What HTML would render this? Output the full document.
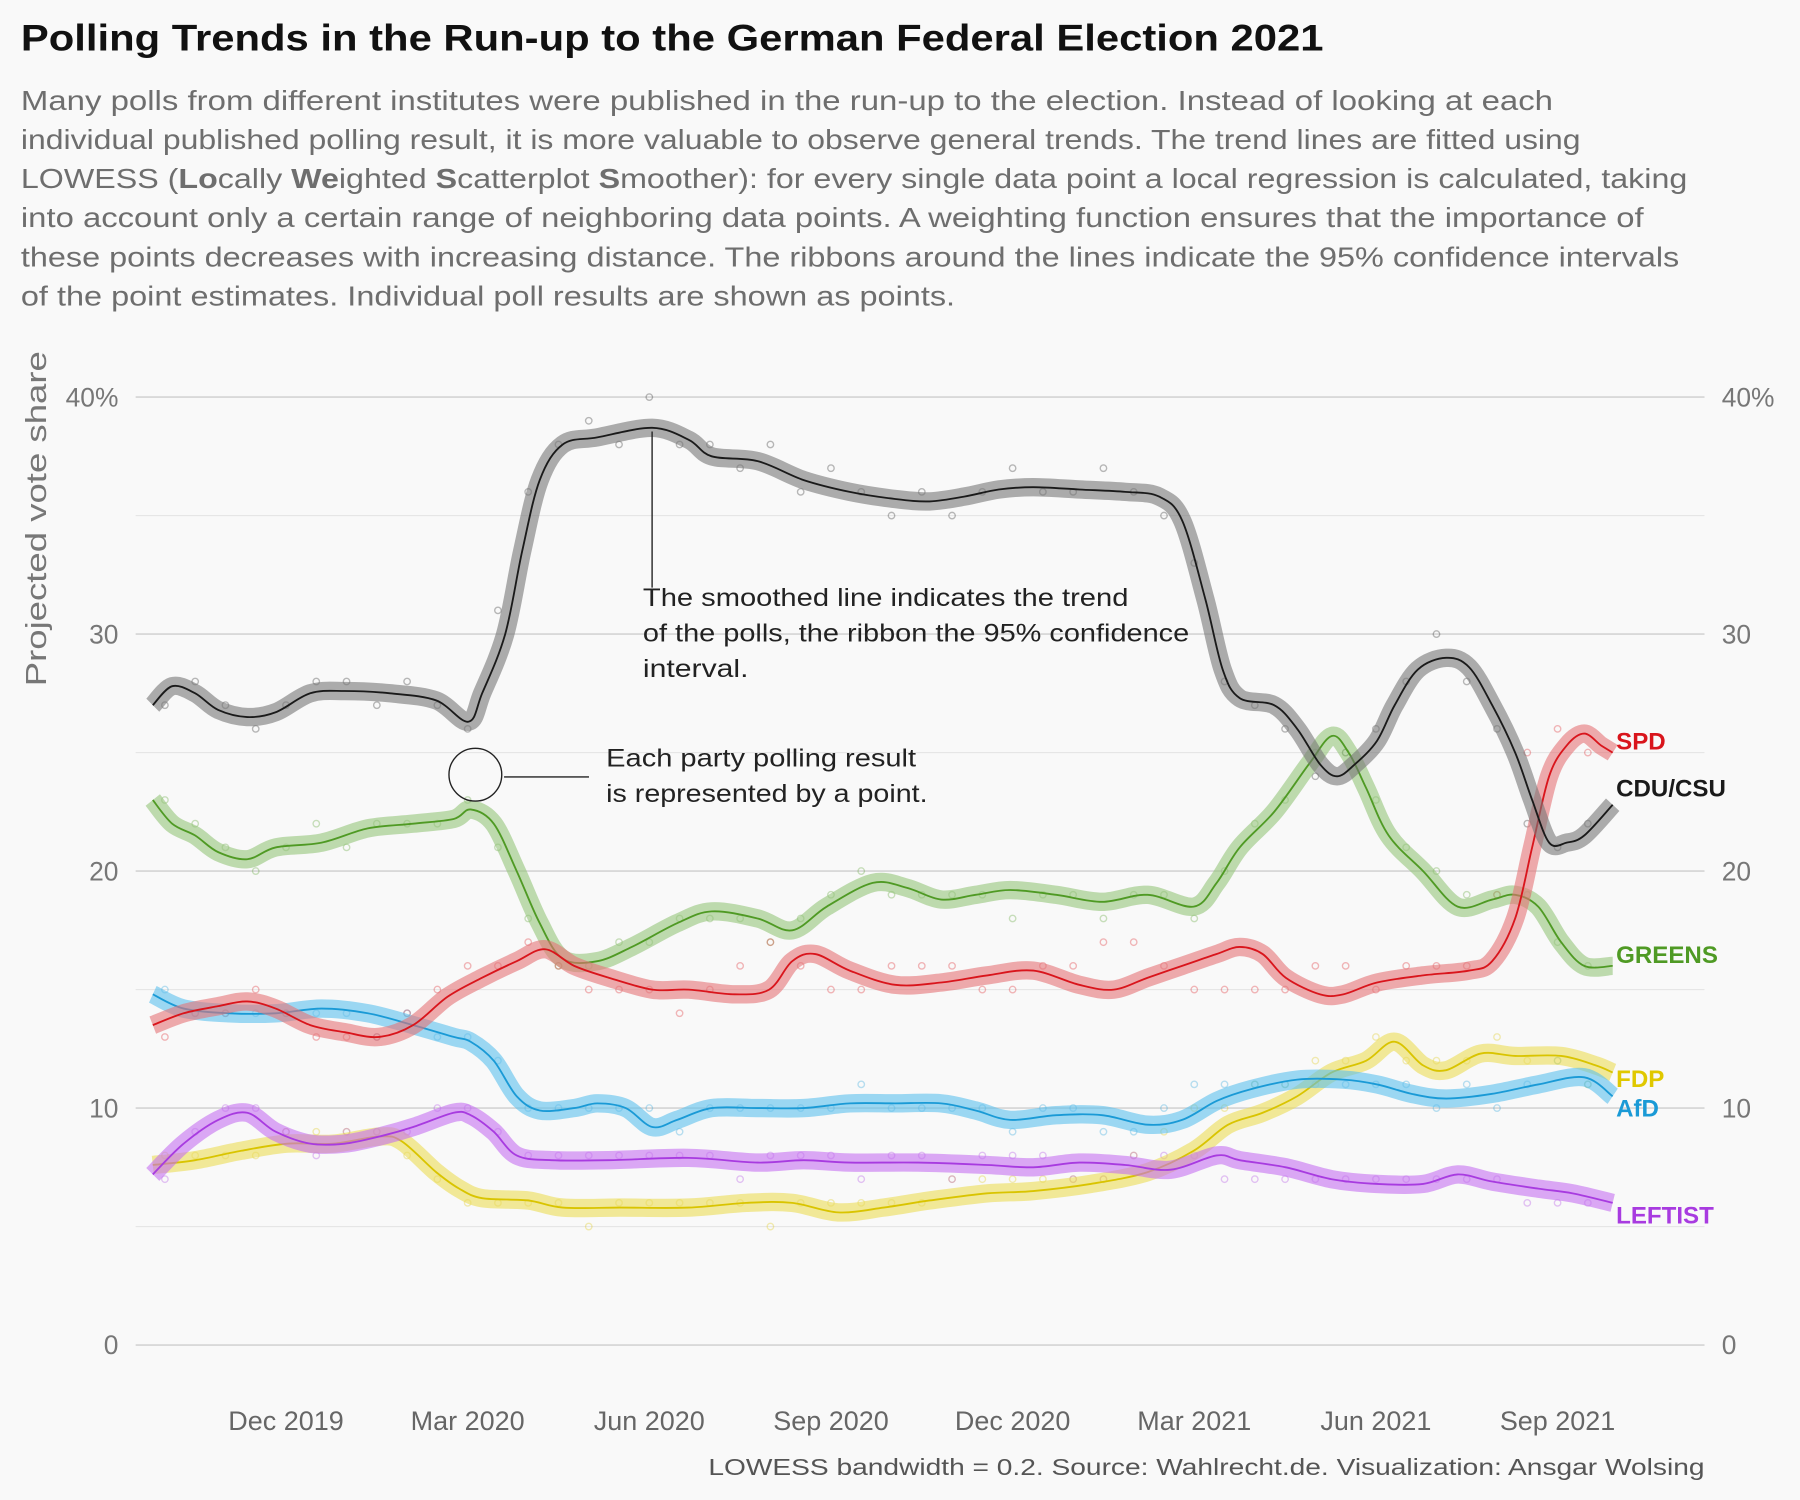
<!DOCTYPE html>
<html><head><meta charset="utf-8"><style>
html,body{margin:0;padding:0;background:#f9f9f9;}
svg{display:block;font-family:"Liberation Sans",sans-serif;}
</style></head><body>
<svg id="chart" width="1800" height="1500" viewBox="0 0 1568 1307" xmlns="http://www.w3.org/2000/svg">
<rect width="1568" height="1307" fill="#f9f9f9"/>
<text x="18" y="44" font-size="32" font-weight="bold" fill="#111" textLength="1135" lengthAdjust="spacingAndGlyphs">Polling Trends in the Run-up to the German Federal Election 2021</text>
<g font-size="24.5" fill="#6e6e6e">
<text x="18" y="96" textLength="1335" lengthAdjust="spacingAndGlyphs">Many polls from different institutes were published in the run-up to the election. Instead of looking at each</text>
<text x="18" y="130" textLength="1359" lengthAdjust="spacingAndGlyphs">individual published polling result, it is more valuable to observe general trends. The trend lines are fitted using</text>
<text x="18" y="164" textLength="1452" lengthAdjust="spacingAndGlyphs">LOWESS (<tspan font-weight="bold">Lo</tspan>cally <tspan font-weight="bold">We</tspan>ighted <tspan font-weight="bold">S</tspan>catterplot <tspan font-weight="bold">S</tspan>moother): for every single data point a local regression is calculated, taking</text>
<text x="18" y="198" textLength="1414" lengthAdjust="spacingAndGlyphs">into account only a certain range of neighboring data points. A weighting function ensures that the importance of</text>
<text x="18" y="232" textLength="1445" lengthAdjust="spacingAndGlyphs">these points decreases with increasing distance. The ribbons around the lines indicate the 95% confidence intervals</text>
<text x="18" y="266" textLength="814" lengthAdjust="spacingAndGlyphs">of the point estimates. Individual poll results are shown as points.</text>
</g>
<text transform="translate(40,452) rotate(-90)" text-anchor="middle" font-size="25" fill="#777" textLength="292" lengthAdjust="spacingAndGlyphs">Projected vote share</text>
<g id="grid"></g>
<g id="points"></g>
<g id="series"></g>
<g id="annot">
<line x1="568" y1="376" x2="568" y2="512" stroke="#222" stroke-width="1.2"/>
<g font-size="21.5" fill="#222">
<text x="560" y="528" textLength="423" lengthAdjust="spacingAndGlyphs">The smoothed line indicates the trend</text>
<text x="560" y="559" textLength="476" lengthAdjust="spacingAndGlyphs">of the polls, the ribbon the 95% confidence</text>
<text x="560" y="590" textLength="92" lengthAdjust="spacingAndGlyphs">interval.</text>
<text x="528" y="668" textLength="270" lengthAdjust="spacingAndGlyphs">Each party polling result</text>
<text x="528" y="699" textLength="280" lengthAdjust="spacingAndGlyphs">is represented by a point.</text>
</g>
<circle cx="414" cy="675" r="23" fill="none" stroke="#222" stroke-width="1.2"/>
<line x1="439" y1="677" x2="513" y2="677" stroke="#222" stroke-width="1.2"/>
</g>
<text x="617" y="1285" font-size="20.5" fill="#555" textLength="868" lengthAdjust="spacingAndGlyphs">LOWESS bandwidth = 0.2. Source: Wahlrecht.de. Visualization: Ansgar Wolsing</text>
</svg>
<script>
// months since 1 Dec 2019
const xTickLabels=["Dec 2019","Mar 2020","Jun 2020","Sep 2020","Dec 2020","Mar 2021","Jun 2021","Sep 2021"];
const xTickMonths=[0,3,6,9,12,15,18,21];
const yTicks=[0,10,20,30,40];
const yMinor=[5,15,25,35];
const cduM=[-2.2,-1.88,-1.5,-1.12,-0.64,-0.17,0.4,0.97,1.72,2.48,3.01,3.24,3.62,3.9,4.19,4.57,5.14,6.05,6.65,7.03,7.79,8.55,9.31,10.06,10.63,11.2,11.77,12.34,13.1,13.86,14.42,14.8,15.18,15.47,15.75,16.32,16.7,17.08,17.36,17.65,18.02,18.31,18.69,19.16,19.54,19.92,20.3,20.58,20.86,21.15,21.44,21.91];
const cduV=[27,27.8,27.5,26.8,26.5,26.7,27.5,27.6,27.5,27.2,26.3,27.5,30,33.5,36.5,38,38.3,38.7,38.2,37.5,37.3,36.5,36,35.7,35.6,35.8,36.1,36.2,36.1,36.0,35.8,34.8,31.5,28.5,27.3,27,26,24.5,24,24.5,25.5,27,28.5,29,28.6,27,25,23,21.2,21.2,21.5,22.8];
const grnM=[-2.2,-1.88,-1.5,-1.12,-0.64,-0.17,0.59,1.35,2.1,2.77,3.05,3.43,3.81,4.19,4.57,5.14,5.71,6.46,7.03,7.79,8.36,8.93,9.69,10.25,10.82,11.39,11.96,12.72,13.48,14.23,14.99,15.37,15.75,16.32,16.89,17.27,17.55,17.84,18.21,18.78,19.35,19.92,20.3,20.68,21.06,21.44,21.91];
const grnV=[23,22,21.5,20.8,20.5,21,21.2,21.8,22,22.2,22.6,22,20,17.8,16.3,16.2,16.8,17.8,18.3,18,17.5,18.5,19.5,19.3,18.8,19,19.2,19,18.7,19,18.5,19.5,21,22.5,24.5,25.7,25,23.5,21.5,20,18.5,18.8,19,18.5,17,16,16];
const spdM=[-2.2,-1.69,-1.12,-0.64,-0.17,0.4,0.97,1.54,2.1,2.67,3.24,3.81,4.28,4.76,5.33,6.05,6.65,7.41,7.98,8.36,8.74,9.31,10.06,10.82,11.58,12.34,13.1,13.67,14.23,14.8,15.37,15.75,16.13,16.51,17.08,17.46,18.02,18.78,19.54,19.92,20.3,20.58,20.86,21.15,21.44,21.72,21.91];
const spdV=[13.5,14,14.3,14.5,14.2,13.5,13.2,13,13.5,14.7,15.5,16.2,16.7,16,15.5,15,15,14.8,15,16.2,16.5,15.8,15.2,15.3,15.6,15.8,15.2,15,15.5,16,16.5,16.8,16.5,15.5,14.8,14.8,15.3,15.6,15.8,16.2,18,21,24,25.3,25.8,25.3,25];
const afdM=[-2.2,-1.69,-0.93,-0.17,0.59,1.35,2.1,2.77,3.05,3.43,3.81,4.19,4.76,5.14,5.61,6.05,6.46,7.03,7.79,8.55,9.31,10.06,10.82,11.39,11.96,12.72,13.48,14.23,14.8,15.37,15.94,16.7,17.46,18.02,18.59,19.16,19.92,20.68,21.44,21.91];
const afdV=[14.8,14.2,14,14,14.2,14,13.5,13,12.8,12,10.5,9.9,10,10.2,10,9.2,9.5,10,10,10,10.2,10.2,10.2,9.9,9.5,9.7,9.7,9.3,9.5,10.3,10.8,11.2,11.2,11.0,10.6,10.4,10.6,11,11.3,10.5];
const fdpM=[-2.2,-1.5,-0.74,0.02,0.78,1.54,1.91,2.48,2.86,3.24,4.0,4.57,5.52,6.65,7.6,8.36,9.12,9.87,10.63,11.58,12.34,13.29,14.23,14.99,15.56,16.13,16.7,17.27,17.84,18.31,18.78,19.16,19.73,20.3,21.06,21.63,21.91];
const fdpV=[7.6,7.8,8.2,8.5,8.5,8.8,8.6,7.3,6.6,6.2,6.1,5.8,5.8,5.8,6.0,6.0,5.6,5.8,6.1,6.4,6.5,6.8,7.3,8.2,9.3,9.8,10.5,11.5,12,12.8,11.8,11.6,12.3,12.2,12.2,11.8,11.5];
const linM=[-2.2,-1.69,-1.12,-0.64,-0.17,0.4,0.97,1.54,2.1,2.77,3.05,3.43,3.81,4.38,5.33,6.65,7.79,8.55,9.31,10.44,11.58,12.34,13.1,13.86,14.61,15.37,15.75,16.51,17.27,18.02,18.78,19.35,19.92,20.68,21.25,21.91];
const linV=[7.2,8.5,9.5,9.8,9,8.5,8.5,8.8,9.2,9.8,9.7,9,8,7.8,7.8,7.9,7.7,7.8,7.7,7.7,7.6,7.5,7.7,7.6,7.4,8,7.8,7.5,7.0,6.8,6.8,7.2,6.9,6.6,6.4,6.0];
// individual poll results (subset), dates every half month from -2 to 21.5
const pollM=[-2,-1.5,-1,-0.5,0,0.5,1,1.5,2,2.5,3,3.5,4,4.5,5,5.5,6,6.5,7,7.5,8,8.5,9,9.5,10,10.5,11,11.5,12,12.5,13,13.5,14,14.5,15,15.5,16,16.5,17,17.5,18,18.5,19,19.5,20,20.5,21,21.5];
const cduPolls=[27,28,27,26,27,28,28,27,28,27,26,31,36,38,39,38,40,38,38,37,38,36,37,36,35,36,35,36,37,36,36,37,36,35,33,28,27,26,24,25,26,28,30,28,26,22,21,22];
const grnPolls=[23,22,21,20,21,22,21,22,22,22,23,21,18,16,16,17,17,18,18,18,17,18,19,20,19,19,19,19,18,19,19,18,19,19,18,20,22,23,25,25,23,21,20,19,19,19,17,16];
const spdPolls=[13,14,14,15,14,13,13,13,14,15,16,16,17,16,15,15,15,14,15,16,17,16,15,15,16,16,16,15,15,16,16,17,17,16,15,15,15,15,16,16,15,16,16,16,19,25,26,25];
const afdPolls=[15,14,14,14,14,14,14,13,14,13,13,12,10,10,10,10,10,9,10,10,10,10,10,11,10,10,10,10,9,10,10,9,9,10,11,11,11,11,11,11,11,11,10,11,10,11,12,11];
const fdpPolls=[8,8,8,8,9,9,9,9,8,7,6,6,6,6,5,6,6,6,6,6,5,6,6,6,6,6,7,7,7,7,7,7,8,9,10,10,11,11,12,12,13,12,12,12,13,12,12,11];
const linPolls=[7,9,10,10,9,8,9,9,9,10,10,9,8,8,8,8,8,8,8,7,8,8,8,7,8,8,7,8,8,8,7,7,8,8,8,7,7,7,7,7,7,7,7,7,7,6,6,6];
const NS="http://www.w3.org/2000/svg";
const x0=249,pxPerMonth=52.76,y0=1172,pxPerPct=20.65;
function xs(m){return x0+m*pxPerMonth;}
function ys(v){return y0-v*pxPerPct;}
function mk(tag,attrs,parent){const e=document.createElementNS(NS,tag);for(const k in attrs)e.setAttribute(k,attrs[k]);parent.appendChild(e);return e;}
const grid=document.getElementById('grid');
yMinor.forEach(v=>{const l=mk('line',{x1:118,x2:1485,y1:ys(v),y2:ys(v),stroke:'#e6e6e6','stroke-width':1},grid);

});
yTicks.forEach(v=>{const l=mk('line',{x1:118,x2:1485,y1:ys(v),y2:ys(v),stroke:'#d9d9d9','stroke-width':1.6},grid);


const lab=v===40?'40%':String(v);
const t1=mk('text',{x:103,y:ys(v)+8,'text-anchor':'end','font-size':23,fill:'#777'},grid);t1.textContent=lab;


const t2=mk('text',{x:1500,y:ys(v)+8,'text-anchor':'start','font-size':23,fill:'#777'},grid);t2.textContent=lab;

});
xTickMonths.forEach((m,i)=>{const t=mk('text',{x:xs(m),y:1246,'text-anchor':'middle','font-size':23.5,fill:'#666'},grid);t.textContent=xTickLabels[i];

});
function pathD(M,V){const p=M.map((m,i)=>[xs(m),ys(V[i])]);let d='M'+p[0][0]+','+p[0][1];
for(let i=0;i<p.length-1;i++){const a=p[i-1]||p[i],b=p[i],c=p[i+1],e=p[i+2]||c;
const c1=[b[0]+(c[0]-a[0])/6,b[1]+(c[1]-a[1])/6],c2=[c[0]-(e[0]-b[0])/6,c[1]-(e[1]-b[1])/6];
d+=' C'+c1[0].toFixed(1)+','+c1[1].toFixed(1)+' '+c2[0].toFixed(1)+','+c2[1].toFixed(1)+' '+c[0].toFixed(1)+','+c[1].toFixed(1);}return d;}
const series=[
 {M:fdpM,V:fdpV,P:fdpPolls,line:'#d9c400',rib:'#ebdc55',lab:'FDP',ly:947,name:'fdp'},
 {M:linM,V:linV,P:linPolls,line:'#a83be0',rib:'#c46ff0',lab:'LEFTIST',ly:1066,name:'leftist'},
 {M:afdM,V:afdV,P:afdPolls,line:'#1a9ad6',rib:'#5cc0ec',lab:'AfD',ly:973,name:'afd'},
 {M:grnM,V:grnV,P:grnPolls,line:'#4f9a24',rib:'#94c57a',lab:'GREENS',ly:839,name:'greens'},
 {M:spdM,V:spdV,P:spdPolls,line:'#d9151c',rib:'#e57377',lab:'SPD',ly:653,name:'spd'},
 {M:cduM,V:cduV,P:cduPolls,line:'#1a1a1a',rib:'#777777',lab:'CDU/CSU',ly:694,name:'cdu-csu'}];
const pg=document.getElementById('points');
series.forEach(s=>{s.P.forEach((v,i)=>{
const c=mk('circle',{cx:xs(pollM[i]),cy:ys(v),r:2.8,fill:'none',stroke:s.line,'stroke-opacity':0.3,'stroke-width':1.2},pg);

});});
const sg=document.getElementById('series');
series.forEach(s=>{const d=pathD(s.M,s.V);
const r=mk('path',{d:d,fill:'none',stroke:s.rib,'stroke-width':16,'stroke-opacity':0.6,'stroke-linejoin':'round','stroke-linecap':'butt'},sg);


const l=mk('path',{d:d,fill:'none',stroke:s.line,'stroke-width':1.6},sg);


const col=s.name==='fdp'?'#e0c800':s.line;
const t=mk('text',{x:1408,y:s.ly,'font-size':21,'font-weight':'bold',fill:col},sg);t.textContent=s.lab;

});
</script>
</body></html>
